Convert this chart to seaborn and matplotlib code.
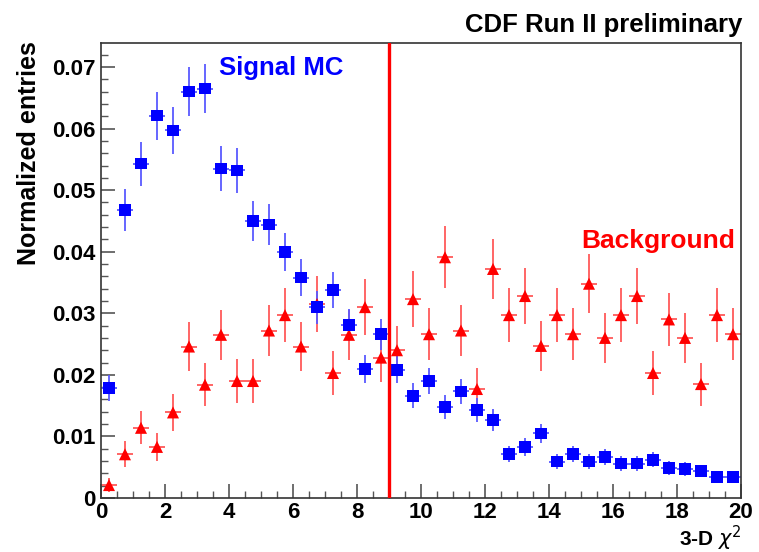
import numpy as np
import pandas as pd
import matplotlib
matplotlib.use("Agg")
import matplotlib.pyplot as plt
from matplotlib.ticker import MultipleLocator, FuncFormatter
import seaborn as sns

# ---- data ----
bin_centers = [0.25 + 0.5 * i for i in range(40)]
signal_vals = [0.0179, 0.0468, 0.0543, 0.0621, 0.0597, 0.0660, 0.0665, 0.0535, 0.0532, 0.0450,
               0.0444, 0.0400, 0.0358, 0.0310, 0.0338, 0.0281, 0.0210, 0.0266, 0.0208, 0.0166,
               0.0190, 0.0148, 0.0173, 0.0143, 0.0127, 0.0071, 0.0083, 0.0105, 0.0059, 0.0071,
               0.0059, 0.0067, 0.0056, 0.0056, 0.0062, 0.0049, 0.0047, 0.0044, 0.0034, 0.0034]
signal_err = [0.0021, 0.0034, 0.0036, 0.0039, 0.0038, 0.0040, 0.0040, 0.0036, 0.0036, 0.0033,
              0.0033, 0.0031, 0.0030, 0.0027, 0.0029, 0.0026, 0.0023, 0.0025, 0.0022, 0.0020,
              0.0021, 0.0019, 0.0020, 0.0019, 0.0018, 0.0013, 0.0014, 0.0016, 0.0012, 0.0013,
              0.0012, 0.0013, 0.0012, 0.0012, 0.0012, 0.0011, 0.0011, 0.0010, 0.0009, 0.0009]
bkg_vals = [0.0021, 0.0071, 0.0114, 0.0083, 0.0139, 0.0246, 0.0184, 0.0265, 0.0190, 0.0190,
            0.0272, 0.0297, 0.0246, 0.0315, 0.0203, 0.0265, 0.0310, 0.0228, 0.0240, 0.0323,
            0.0266, 0.0391, 0.0272, 0.0177, 0.0372, 0.0297, 0.0328, 0.0247, 0.0297, 0.0266,
            0.0348, 0.0260, 0.0297, 0.0328, 0.0203, 0.0290, 0.0260, 0.0185, 0.0297, 0.0266]
bkg_err = [0.0012, 0.0021, 0.0027, 0.0023, 0.0030, 0.0040, 0.0035, 0.0041, 0.0035, 0.0035,
           0.0042, 0.0044, 0.0040, 0.0045, 0.0036, 0.0041, 0.0045, 0.0039, 0.0040, 0.0046,
           0.0042, 0.0050, 0.0042, 0.0034, 0.0049, 0.0044, 0.0046, 0.0040, 0.0044, 0.0042,
           0.0048, 0.0041, 0.0044, 0.0046, 0.0036, 0.0043, 0.0041, 0.0035, 0.0044, 0.0042]
cut_value = 9.0
bin_half_width = 0.25

df_sig = pd.DataFrame({"x": bin_centers, "y": signal_vals, "err": signal_err})
df_bkg = pd.DataFrame({"x": bin_centers, "y": bkg_vals, "err": bkg_err})

sns.set_theme(style="ticks")
plt.rcParams['font.family'] = ['Liberation Sans', 'DejaVu Sans']
plt.rcParams['mathtext.fontset'] = 'dejavusans'
plt.rcParams['text.color'] = 'black'

fig = plt.figure(figsize=(7.59, 5.52), dpi=100)
ax = fig.add_axes([101/759, 1 - 498/552, 640/759, 455/552])

# error bars
ax.errorbar(df_bkg["x"], df_bkg["y"], yerr=df_bkg["err"], xerr=bin_half_width,
            fmt="none", ecolor=(1, 0.35, 0.35), elinewidth=1.3, zorder=2)
ax.errorbar(df_sig["x"], df_sig["y"], yerr=df_sig["err"], xerr=bin_half_width,
            fmt="none", ecolor=(0.35, 0.35, 1), elinewidth=1.3, zorder=2)

sns.scatterplot(data=df_bkg, x="x", y="y", marker="^", color="#ff0000", s=75,
                edgecolor="none", ax=ax, zorder=3)
sns.scatterplot(data=df_sig, x="x", y="y", marker="s", color="#0000ff", s=70,
                edgecolor="none", ax=ax, zorder=4)

ax.axvline(cut_value, color="#ff0000", lw=2.4, zorder=5)

ax.set_xlim(0, 20)
ax.set_ylim(0, 0.0739)
ax.xaxis.set_major_locator(MultipleLocator(2))
ax.xaxis.set_minor_locator(MultipleLocator(0.5))
ax.yaxis.set_major_locator(MultipleLocator(0.01))
ax.yaxis.set_minor_locator(MultipleLocator(0.002))
ax.yaxis.set_major_formatter(FuncFormatter(lambda v, p: "0" if abs(v) < 1e-9 else f"{v:.2f}"))
ax.xaxis.set_major_formatter(FuncFormatter(lambda v, p: f"{v:g}"))

ax.tick_params(axis="both", which="major", direction="in", length=10, width=1.2,
               labelsize=16, colors="#555555", labelcolor="black")
ax.tick_params(axis="x", which="major", pad=3)
ax.tick_params(axis="y", which="major", pad=4)
ax.tick_params(axis="both", which="minor", direction="in", length=5, width=1.0, colors="#555555")
for lab in ax.get_xticklabels() + ax.get_yticklabels():
    lab.set_fontweight("bold")
for s in ax.spines.values():
    s.set_color("#333333")
    s.set_linewidth(1.2)

ax.set_xlabel("")
ax.set_ylabel("")
fig.text(742/759, 1 - 546/552, r"3-D $\chi^2$", ha="right", va="baseline",
         fontsize=15, fontweight="bold", color="black")
fig.text(29/759, 1 - 41/552, "Normalized entries", rotation=90, ha="center", va="top",
         fontsize=18, fontweight="bold", color="black")
fig.text(742/759, 1 - 32/552, "CDF Run II preliminary", ha="right", va="baseline",
         fontsize=18.5, fontweight="bold", color="black")

ax.text(3.7, 0.0698, "Signal MC", color="#0000ff", fontsize=18.5, fontweight="bold",
        ha="left", va="center")
ax.text(15.0, 0.0417, "Background", color="#ff0000", fontsize=19, fontweight="bold",
        ha="left", va="center")

fig.savefig("out.png", dpi=100)
